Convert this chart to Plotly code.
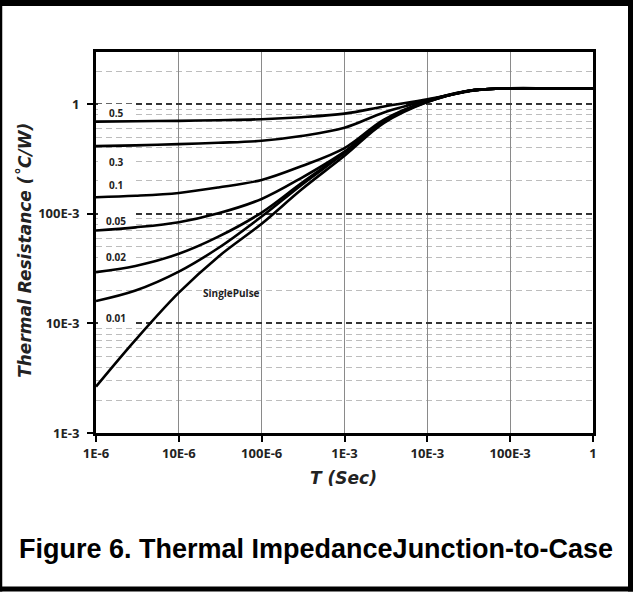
import numpy as np
import plotly.graph_objects as go

# ---------------- data ----------------
t_sec = [1e-6, 3e-6, 1e-5, 3e-5, 1e-4, 3e-4, 1e-3, 3e-3, 1e-2, 3e-2, 5e-2, 1e-1, 3e-1, 1.0]

z_d050 = [0.695, 0.700, 0.706, 0.716, 0.731, 0.762, 0.822, 0.955, 1.109, 1.300, 1.370, 1.40, 1.40, 1.40]
z_d030 = [0.415, 0.422, 0.433, 0.445, 0.464, 0.513, 0.610, 0.841, 1.084, 1.315, 1.372, 1.40, 1.40, 1.40]
z_d010 = [0.1416, 0.1462, 0.1552, 0.174, 0.204, 0.272, 0.398, 0.724, 1.072, 1.318, 1.373, 1.40, 1.40, 1.40]
z_d005 = [0.0705, 0.0753, 0.0839, 0.1012, 0.1368, 0.2123, 0.370, 0.708, 1.064, 1.318, 1.373, 1.40, 1.40, 1.40]
z_d002 = [0.0294, 0.0335, 0.0432, 0.0619, 0.1028, 0.190, 0.364, 0.708, 1.059, 1.317, 1.373, 1.40, 1.40, 1.40]
z_d001 = [0.0160, 0.01995, 0.0297, 0.0488, 0.0946, 0.183, 0.359, 0.700, 1.052, 1.317, 1.373, 1.40, 1.40, 1.40]
z_single = [0.00265, 0.00708, 0.0191, 0.0407, 0.0813, 0.166, 0.339, 0.676, 1.047, 1.316, 1.373, 1.40, 1.40, 1.40]

series_names = ["0.5", "0.3", "0.1", "0.05", "0.02", "0.01", "SinglePulse"]
series_values = [z_d050, z_d030, z_d010, z_d005, z_d002, z_d001, z_single]

# curve labels (text, t position, Z position)
label_text = ["0.5", "0.3", "0.1", "0.05", "0.02", "0.01", "SinglePulse"]
label_t = [1.746e-6, 1.746e-6, 1.746e-6, 1.746e-6, 1.746e-6, 1.746e-6, 4.35e-5]
label_z = [0.839, 0.299, 0.1836, 0.0869, 0.0403, 0.01124, 0.01897]

x_tickvals = [1e-6, 1e-5, 1e-4, 1e-3, 1e-2, 1e-1, 1]
x_ticktext = ["1E-6", "10E-6", "100E-6", "1E-3", "10E-3", "100E-3", "1"]
y_tickvals = [1e-3, 1e-2, 1e-1, 1]
y_ticktext = ["1E-3", "10E-3", "100E-3", "1"]
y_minor = [m * 10.0 ** e for e in (-3, -2, -1, 0) for m in range(2, 10) if m * 10.0 ** e <= 3.0]

caption = "Figure 6. Thermal ImpedanceJunction-to-Case"

# ---------------- layout geometry (pixels) ----------------
W, H = 633, 592
PX0, PX1 = 96, 593
PY0, PY1 = 52, 433.3
ML, MR, MT, MB = PX0, W - PX1, PY0, H - PY1
Y_LO, Y_HI = -3.0, float(np.log10(3.0))
X_LO, X_HI = -6.0, 0.0
DEC_PX_Y = (PY1 - PY0) / (Y_HI - Y_LO)
DEC_PX_X = (PX1 - PX0) / (X_HI - X_LO)


def px(xp):
    return (xp - PX0) / (PX1 - PX0)


def py(yp):
    return (PY1 - yp) / (PY1 - PY0)


fig = go.Figure()

# white patches that hide the grid behind the curve labels (drawn before curves)
box_x0 = 10 ** (X_LO + 2.0 / DEC_PX_X)
box_x1 = 10 ** (X_LO + 37.0 / DEC_PX_X)
box_half = 9.0 / DEC_PX_Y
for txt, lz in zip(label_text, label_z):
    if txt == "SinglePulse":
        continue
    y0 = 10 ** (np.log10(lz) - box_half)
    y1 = 10 ** (np.log10(lz) + box_half)
    fig.add_trace(go.Scatter(
        x=[box_x0, box_x1, box_x1, box_x0, box_x0],
        y=[y0, y0, y1, y1, y0],
        mode="lines", fill="toself", fillcolor="white",
        line=dict(width=0, color="white"),
        showlegend=False, hoverinfo="skip",
    ))

for name, vals in zip(series_names, series_values):
    fig.add_trace(go.Scatter(
        x=t_sec, y=vals, mode="lines", name=name,
        line=dict(color="black", width=2.6, shape="spline", smoothing=1.0),
        showlegend=False, hoverinfo="skip",
    ))

label_font = dict(family="Open Sans", size=10, color="#222", weight="bold")
for txt, lt, lz in zip(label_text, label_t, label_z):
    fig.add_annotation(x=np.log10(lt), y=np.log10(lz), xref="x", yref="y",
                       text=txt, showarrow=False, font=label_font,
                       xanchor="center", yanchor="middle")

tick_font = dict(family="Open Sans", size=13, color="#222", weight="bold")

fig.update_xaxes(
    type="log", range=[X_LO, X_HI],
    tickvals=x_tickvals, ticktext=x_ticktext, tickfont=tick_font,
    ticks="outside", ticklen=6, tickwidth=2, tickcolor="black",
    showline=True, linewidth=3, linecolor="black", mirror=True,
    showgrid=True, gridcolor="#8a8a8a", gridwidth=1,
    zeroline=False,
)
fig.update_yaxes(
    type="log", range=[Y_LO, Y_HI],
    tickvals=y_tickvals, ticktext=y_ticktext, tickfont=tick_font,
    ticks="outside", ticklen=6, tickwidth=2, tickcolor="black",
    ticklabelstandoff=5,
    showline=True, linewidth=3, linecolor="black", mirror=True,
    showgrid=True, gridcolor="#333333", gridwidth=1.5, griddash="6px,4px",
    minor=dict(tickvals=y_minor, showgrid=True, gridcolor="#bdbdbd",
               gridwidth=1, griddash="6px,4px", ticks=""),
    zeroline=False,
)

title_font = dict(family="DejaVu Sans", size=17, color="#222", weight="bold", style="italic")
fig.add_annotation(x=px(343), y=py(478), xref="paper", yref="paper",
                   xanchor="center", yanchor="middle",
                   text="T (Sec)", showarrow=False, font=title_font)
fig.add_annotation(x=px(25), y=py(251), xref="paper", yref="paper",
                   xanchor="center", yanchor="middle",
                   text="Thermal Resistance (˚C/W)", textangle=-90,
                   showarrow=False, font=title_font)
fig.add_annotation(x=px(315.5), y=py(549), xref="paper", yref="paper",
                   xanchor="center", yanchor="middle",
                   text=caption, showarrow=False,
                   font=dict(family="Liberation Sans", size=27, color="black", weight="bold"))

# outer figure frame
frame = [
    (0, 3, W, 3, 6),
    (1, 0, 1, H, 2.5),
    (630.5, 0, 630.5, H, 5),
    (0, 589.5, W, 589.5, 5),
]
for x0, y0, x1, y1, w in frame:
    fig.add_shape(type="line", xref="paper", yref="paper",
                  x0=px(x0), y0=py(y0), x1=px(x1), y1=py(y1),
                  line=dict(color="black", width=w), layer="above")

fig.update_layout(
    width=W, height=H,
    margin=dict(l=ML, r=MR, t=MT, b=MB),
    paper_bgcolor="white", plot_bgcolor="white",
    showlegend=False,
)

fig.write_html("out.html",
               config={"displayModeBar": False},
               post_script="document.body.style.margin='0px';document.body.style.overflow='hidden';")
